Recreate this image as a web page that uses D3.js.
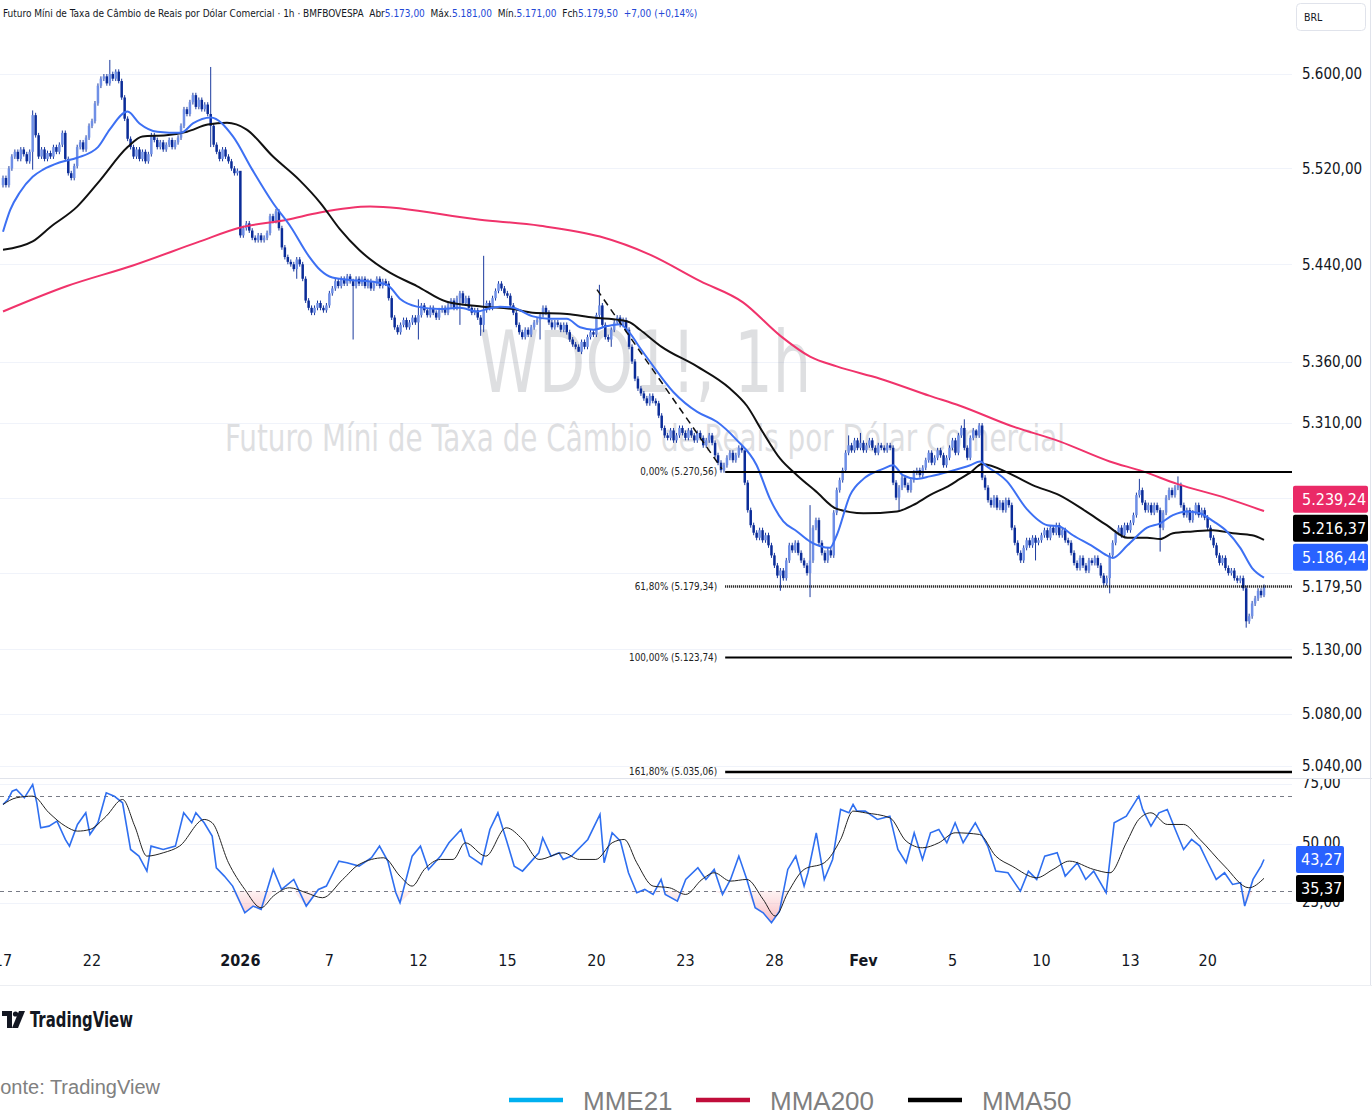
<!DOCTYPE html>
<html>
<head>
<meta charset="utf-8">
<script src="https://cdn.jsdelivr.net/npm/d3@7"></script>
<style>
  body { margin: 0; background: #fff; }
  svg { display: block; font-family: "DejaVu Sans Condensed", "DejaVu Sans", sans-serif; }
</style>
</head>
<body>
<svg id="chart"></svg>
<script>
// hourly closes, one row per trading session (WDO1!, 1h)
const sessionLabels = ["17","","","22","","","","","2026","","","7","","","12","","","15","","","20","","","23","","","28","","","Fev","","","5","","","10","","","13","","","20",""];
const firstOpen = 5506;
const closes = [
  [5512,5506,5520,5530,5534,5528,5536,5532,5526,5534],
  [5565,5548,5530,5536,5528,5533,5530,5538,5534,5540],
  [5550,5528,5516,5512,5522,5538,5542,5536,5546,5556],
  [5560,5575,5590,5596,5598,5592,5600,5596,5602,5594],
  [5580,5562,5545,5538,5530,5536,5528,5534,5526,5532],
  [5548,5544,5538,5542,5536,5540,5544,5538,5542,5546],
  [5556,5570,5566,5576,5582,5572,5578,5570,5574,5566],
  [5556,5540,5534,5528,5536,5530,5526,5520,5516,5518],
  [5464,5470,5474,5468,5462,5460,5464,5460,5462,5466],
  [5480,5476,5484,5470,5454,5446,5442,5440,5436,5444],
  [5440,5428,5410,5404,5400,5404,5408,5404,5402,5406],
  [5416,5420,5426,5422,5428,5424,5430,5426,5422,5428],
  [5424,5428,5422,5426,5420,5424,5428,5422,5426,5424],
  [5412,5396,5388,5384,5390,5394,5388,5392,5396,5392],
  [5398,5406,5402,5398,5404,5400,5396,5402,5404,5400],
  [5406,5410,5404,5412,5416,5408,5412,5404,5400,5402],
  [5396,5390,5402,5408,5404,5412,5418,5424,5420,5416],
  [5414,5406,5400,5390,5384,5380,5386,5382,5388,5392],
  [5394,5398,5404,5400,5392,5388,5392,5390,5386,5390],
  [5384,5378,5374,5372,5368,5376,5372,5380,5384,5382],
  [5398,5406,5390,5380,5378,5386,5392,5396,5390,5394],
  [5386,5372,5360,5346,5338,5334,5330,5326,5332,5328],
  [5326,5316,5306,5300,5298,5304,5296,5300,5306,5302],
  [5298,5304,5300,5296,5302,5298,5292,5296,5300,5294],
  [5284,5278,5272,5276,5282,5286,5280,5284,5290,5288],
  [5262,5240,5228,5222,5218,5224,5216,5220,5212,5204],
  [5196,5188,5192,5186,5200,5212,5208,5214,5206,5200],
  [5196,5190,5200,5226,5232,5214,5206,5200,5208,5204],
  [5238,5256,5264,5272,5286,5292,5288,5296,5290,5294],
  [5288,5292,5296,5290,5286,5292,5290,5288,5292,5290],
  [5262,5250,5258,5266,5260,5256,5264,5270,5272,5268],
  [5274,5280,5286,5278,5282,5288,5284,5276,5282,5290],
  [5296,5286,5300,5306,5290,5282,5298,5304,5300,5308],
  [5266,5258,5248,5244,5250,5242,5246,5240,5248,5244],
  [5226,5214,5206,5200,5210,5216,5212,5218,5214,5216],
  [5220,5224,5218,5226,5222,5228,5220,5224,5216,5214],
  [5206,5198,5194,5202,5196,5192,5200,5198,5202,5196],
  [5188,5182,5186,5204,5214,5222,5226,5220,5228,5224],
  [5230,5236,5252,5256,5246,5240,5244,5238,5244,5240],
  [5226,5238,5250,5256,5252,5258],
  [5260,5244,5236,5240,5232,5238,5244,5236,5240,5234],
  [5226,5218,5212,5204,5198,5202,5194,5190,5192,5186],
  [5184,5186,5178,5152,5156,5166,5170,5176,5172.5,5179.5]
];
// long wicks: [bar, high, low]
const spikes = [
  [10,5569,5519],[20,5552,null],[36,5612,null],[38,5604,null],[70,5606,5538],[80,5508,null],
  [99,null,5428],[118,null,5378],[140,5411,5378],[154,null,5390],[161,null,5381],[162,5447,5384],
  [181,null,5378],[194,null,5368],[201,5423,null],[205,null,5372],[250,5283,null],[262,null,5176],
  [272,5244,5171],[285,5300,null],[289,5302,null],[302,null,5240],[324,5313,null],[328,5305,null],
  [348,null,5200],[373,null,5174],[383,5265,null],[390,null,5207],[396,5267,null],[419,null,5147],
  [425,5181,5171]
];
// moving averages: [bar, value]
const mme21 = [[0,5467],[2.4,5485],[5.7,5500],[10,5513],[13.5,5519],[19,5525],[25,5529],[32,5538],[36,5553],[42,5568],[46,5558],[52,5551],[60,5550],[64,5558],[70,5563],[77.5,5547],[84,5519],[91,5491],[97,5471],[103,5447],[107,5435],[111,5429],[117,5427],[126,5425],[130,5422],[134,5411],[139.5,5405],[147,5403],[154,5404],[160,5401],[163,5403],[167.5,5405],[172,5404],[178.6,5397],[184,5395],[190,5395],[194.5,5388],[199,5386],[203.6,5389],[208,5390.5],[211,5384],[215,5370],[218,5360],[226,5335],[234,5319],[240.6,5311],[247,5297],[254,5276],[258.5,5249],[263,5231],[267.6,5223],[272,5215],[278.7,5210],[281,5220],[285.5,5252],[290,5265],[296.6,5273],[300,5276],[303.3,5268],[308,5265],[312.4,5267],[319,5271],[326,5276],[329.3,5279],[331.6,5275],[338.4,5263],[345,5241],[352,5228],[356,5227],[360.6,5220],[367.4,5211],[372,5204],[374,5202],[379,5212],[385.6,5226],[390,5229.5],[394.3,5236],[399,5239],[403.4,5237.5],[408,5231],[412.5,5223],[417,5210],[421,5194],[425,5186.44]];
const mma50 = [[0,5452],[10,5459],[16,5471],[25,5488],[32.7,5510],[42,5538],[47,5547],[55,5548],[62,5551],[69,5557],[75.5,5558.5],[82,5553],[91,5530],[100,5510],[107,5491],[113.6,5469],[120,5452],[130.4,5433],[139.5,5422],[149.6,5409],[161.8,5405],[171.9,5403],[178.6,5400],[190.1,5399],[198.9,5396],[208,5394],[211.3,5392],[214.7,5386],[222,5372],[233.9,5356],[245,5338],[250.7,5324],[256,5303],[262,5281],[267.6,5268],[274,5255],[281,5241],[290,5237.5],[301.3,5239],[306.7,5244],[312.4,5252],[319.2,5260],[322.5,5265],[326,5270],[330,5277],[339.5,5269],[347,5260],[356,5252],[365,5239],[372,5228],[379,5218],[385.6,5218],[390,5217],[394.3,5221.6],[401,5223],[407.8,5224],[414.5,5221.6],[421,5220],[425,5216.37]];
const mma200 = [[0,5401],[21.6,5422],[43.8,5439],[66.4,5459],[80,5470.5],[95.7,5477],[106.8,5483],[123.7,5488],[160.8,5477],[181,5472],[201.2,5463],[218,5448],[235,5426],[249.4,5408.5],[262,5381],[272,5364],[281,5356],[295.6,5346],[312.4,5332],[322.5,5324],[339.4,5308],[356.3,5295],[373,5279],[384.2,5271],[395.7,5261],[412.5,5249.4],[425,5239.24]];
// RSI and its average: [bar, value]
const rsi = [[0,66.4],[1.7,68.5],[3.1,72.0],[4.5,72.7],[7.2,69.2],[10,74.8],[11.4,67.1],[12.7,56.6],[15.5,57.3],[18.2,59.4],[21,51.7],[22.4,48.9],[25.1,58.0],[27.9,62.9],[29.3,53.8],[32,58.7],[34.8,71.3],[37.5,69.9],[40.3,67.1],[43,47.5],[45.8,44.7],[48.5,38.4],[49.9,48.9],[54,47.5],[58.1,48.9],[60.9,62.9],[63.6,58.7],[65,62.9],[67.8,58.7],[70.5,53.1],[71.9,39.8],[74.6,36.3],[77.4,32.1],[81.5,20.9],[84.3,23.7],[87,22.3],[91.1,39.1],[93.9,30.7],[98,34.9],[102.2,23.7],[106.3,30.7],[109,32.1],[113.2,42.6],[115.9,41.9],[120,40.5],[124.2,44.0],[126.9,48.9],[129.7,42.6],[132.4,29.3],[133.8,25.1],[137.9,44.7],[140.7,48.9],[143.4,39.1],[147.5,44.7],[150.3,50.3],[154.4,55.9],[157.2,44.7],[161.3,41.2],[164.1,55.9],[166.8,62.9],[169.6,51.7],[172.3,40.5],[175.1,38.4],[180.6,46.1],[181.9,52.4],[184.7,44.7],[187.4,46.1],[188.8,43.3],[191.6,44.7],[197.1,51.7],[201.2,62.2],[202.6,41.9],[205.3,54.5],[208.1,51.0],[210.8,37.7],[213.6,29.3],[216.3,30.7],[219.1,28.6],[221.8,34.9],[223.2,28.6],[227.3,25.8],[230.1,34.9],[234.2,39.8],[236.9,34.9],[239.7,39.1],[242.5,28.6],[245.2,34.9],[248,44.7],[250.7,34.9],[253.5,23.0],[256.2,20.9],[259,16.7],[261.7,21.6],[264.5,39.1],[267.2,44.7],[270,32.1],[271.3,37.7],[274.1,54.5],[276.8,34.9],[279.6,43.3],[282.3,64.3],[285.1,62.9],[286.5,66.4],[287.8,63.6],[290.6,63.6],[294.7,60.1],[298.9,61.5],[301.6,47.5],[304.4,41.9],[307.1,54.5],[309.9,43.3],[312.6,54.5],[315.4,55.9],[318.1,50.3],[320.9,58.7],[323.6,50.3],[327.7,58.7],[331.9,48.9],[334.6,38.4],[338.7,37.7],[342.9,30.0],[345.6,38.4],[348.4,34.9],[351.1,44.7],[355.3,46.1],[358,36.3],[362.1,41.9],[364.9,34.9],[367.6,38.4],[371.8,29.3],[374.5,58.7],[378.6,61.5],[382.8,69.9],[384.1,64.3],[386.9,57.3],[389.6,62.9],[392.4,64.3],[395.1,55.9],[397.9,47.5],[400.6,51.7],[403.4,48.9],[406.1,41.9],[408.9,34.9],[411.7,37.7],[414.4,32.8],[417.1,33.5],[418.5,23.7],[421.3,34.9],[424,40.5],[425,43.27]];
const rsiMa = [[0,66.4],[4.5,69.2],[10,69.9],[15.5,62.9],[21,57.3],[25.1,55.2],[29.3,55.9],[34.8,61.5],[40.3,68.5],[44.4,57.3],[48.5,44.7],[54,46.1],[59.5,48.9],[67.8,60.1],[70.5,58.7],[76,41.9],[81.5,30.7],[87,23.0],[91.1,27.9],[96.6,31.4],[102.2,29.3],[107.7,27.2],[114.5,34.9],[120,41.2],[128.3,44.0],[133.8,36.3],[137.9,32.1],[142,39.1],[147.5,43.3],[151.7,43.3],[155.8,50.3],[162.7,44.7],[169.6,56.6],[175.1,51.7],[180.6,43.3],[188.8,46.1],[194.3,43.3],[199.8,43.3],[205.3,50.3],[209.4,51.7],[213.6,41.9],[219.1,32.1],[224.6,31.4],[230.1,28.6],[235.6,34.9],[239.7,37.7],[245.2,34.2],[250.7,34.9],[256.2,26.5],[260.3,19.5],[264.5,29.3],[270,39.1],[276.8,41.9],[282.3,51.7],[286.5,63.6],[290.6,62.9],[298.9,60.8],[304.4,51.0],[309.9,48.2],[315.4,50.3],[320.9,54.5],[329.1,53.8],[334.6,44.7],[340.1,40.5],[348.4,35.6],[353.9,39.1],[359.4,42.6],[367.6,39.1],[373.1,37.7],[378.6,50.3],[382.8,60.1],[386.9,62.9],[392.4,58.0],[397.9,58.0],[403.4,51.7],[411.7,40.5],[419.9,31.4],[425,35.37]];
// fibonacci drawing and dashed trend line
const fibStartBar = 243.4;
const fibPct = ["0,00%", "61,80%", "100,00%", "161,80%"];
const fibValues = [5270.56, 5179.34, 5123.74, 5035.06];
const trendLine = [[200.2, 5419], [242.3, 5273]];
// axes
const priceGrid = [5600, 5520, 5440, 5360, 5310, 5250, 5190, 5130, 5080, 5040];
const priceLabels = [5600, 5520, 5440, 5360, 5310, 5130, 5080, 5040];
const rsiTicks = [75, 50, 25];
const lastBar = { open: 5173, high: 5181, low: 5171, close: 5179.5, change: 7, pct: 0.14 };
const legendNames = ["MME21", "MMA200", "MMA50"];

class TvChart {
  constructor(config) {
    this.config = {
      parent: config.parent,
      width: config.width || 1372,
      height: config.height || 1117,
      plotRight: config.plotRight || 1292,
      paneBottom: config.paneBottom || 778
    };
    this.init();
  }

  init() {
    let self = this;
    self.svg = d3.select(self.config.parent)
      .attr('width', self.config.width)
      .attr('height', self.config.height);

    // build bars, open = previous close
    self.bars = [];
    self.sessionStart = [];
    let prev = firstOpen;
    closes.forEach(day => {
      self.sessionStart.push(self.bars.length);
      day.forEach(c => {
        self.bars.push({ i: self.bars.length, o: prev, c: c, h: null, l: null });
        prev = c;
      });
    });
    spikes.forEach(s => {
      if (s[1] !== null) self.bars[s[0]].h = s[1];
      if (s[2] !== null) self.bars[s[0]].l = s[2];
    });

    self.xscale = d3.scaleLinear().domain([0, self.bars.length - 1]).range([3, 1264]);
    self.yscale = d3.scaleLog().domain([5600, 5035.06]).range([74, 772]);
    self.rscale = d3.scaleLinear().domain([25, 75]).range([903, 784]);

    const br = d3.formatLocale({ decimal: ",", thousands: ".", grouping: [3], currency: ["", ""] });
    self.fmt = br.format(",.2f");

    const defs = self.svg.append('defs');
    defs.append('clipPath').attr('id', 'clip-main').append('rect')
      .attr('x', 0).attr('y', 0).attr('width', self.config.plotRight).attr('height', self.config.paneBottom);
    defs.append('clipPath').attr('id', 'clip-rsi').append('rect')
      .attr('x', 0).attr('y', self.config.paneBottom + 1).attr('width', self.config.plotRight).attr('height', 164);
    defs.append('clipPath').attr('id', 'clip-rsi-axis').append('rect')
      .attr('x', self.config.plotRight).attr('y', self.config.paneBottom + 1).attr('width', 80).attr('height', 164);
    const grad = defs.append('linearGradient').attr('id', 'os-grad')
      .attr('gradientUnits', 'userSpaceOnUse').attr('x1', 0).attr('x2', 0)
      .attr('y1', self.rscale(30)).attr('y2', self.rscale(15));
    grad.append('stop').attr('offset', 0).attr('stop-color', '#f7a1a8').attr('stop-opacity', 0.15);
    grad.append('stop').attr('offset', 1).attr('stop-color', '#f26b76').attr('stop-opacity', 0.55);
  }

  render() {
    let self = this;
    const x = self.xscale, y = self.yscale, r = self.rscale;
    const right = self.config.plotRight;

    // grid
    self.svg.append('g').selectAll('line').data(priceGrid).join('line')
      .attr('x1', 0).attr('x2', right)
      .attr('y1', d => Math.round(y(d)) + 0.5).attr('y2', d => Math.round(y(d)) + 0.5)
      .attr('stroke', '#f0f3fa');

    // watermark
    const wm = self.svg.append('g').attr('fill', '#787b86').attr('opacity', 0.24);
    wm.append('text').attr('x', 645).attr('y', 392).attr('text-anchor', 'middle')
      .attr('font-size', 86).attr('textLength', 332).attr('lengthAdjust', 'spacingAndGlyphs')
      .text('WDO1!, 1h');
    wm.append('text').attr('x', 645).attr('y', 451).attr('text-anchor', 'middle')
      .attr('font-size', 38).attr('textLength', 840).attr('lengthAdjust', 'spacingAndGlyphs')
      .text('Futuro Míni de Taxa de Câmbio de Reais por Dólar Comercial');

    const main = self.svg.append('g').attr('clip-path', 'url(#clip-main)');

    // candles
    const candle = main.append('g').selectAll('g').data(self.bars).join('g');
    candle.append('line')
      .attr('x1', d => x(d.i)).attr('x2', d => x(d.i))
      .attr('y1', d => y(d.h !== null ? d.h : Math.max(d.o, d.c) + 2))
      .attr('y2', d => y(d.l !== null ? d.l : Math.min(d.o, d.c) - 2))
      .attr('stroke', '#1b3a9e').attr('stroke-width', 1);
    candle.append('rect')
      .attr('x', d => x(d.i) - 1.25).attr('width', 2.5)
      .attr('y', d => y(Math.max(d.o, d.c)))
      .attr('height', d => Math.max(1, y(Math.min(d.o, d.c)) - y(Math.max(d.o, d.c))))
      .attr('fill', d => d.c >= d.o ? '#6f8fe6' : '#0b2c98');

    // moving averages
    const line = d3.line().x(d => x(d[0])).y(d => y(d[1])).curve(d3.curveMonotoneX);
    main.append('path').datum(mma200).attr('d', line).attr('fill', 'none').attr('stroke', '#f0336b').attr('stroke-width', 2);
    main.append('path').datum(mma50).attr('d', line).attr('fill', 'none').attr('stroke', '#111').attr('stroke-width', 2);
    main.append('path').datum(mme21).attr('d', line).attr('fill', 'none').attr('stroke', '#3d70f3').attr('stroke-width', 2);

    // trend line
    main.append('path').datum(trendLine).attr('d', d3.line().x(d => x(d[0])).y(d => y(d[1])))
      .attr('stroke', '#111').attr('stroke-width', 1.5).attr('stroke-dasharray', '7,5');

    // fibonacci levels
    const fibStyle = [{ w: 2, dash: null }, { w: 2.5, dash: '1,1' }, { w: 2, dash: null }, { w: 2.5, dash: null }];
    const fib = self.svg.append('g');
    fibValues.forEach((v, k) => {
      fib.append('line').attr('x1', x(fibStartBar)).attr('x2', right)
        .attr('y1', y(v)).attr('y2', y(v))
        .attr('stroke', '#000').attr('stroke-width', fibStyle[k].w)
        .attr('stroke-dasharray', fibStyle[k].dash);
      fib.append('text').attr('x', x(fibStartBar) - 8).attr('y', y(v)).attr('dy', '0.35em')
        .attr('text-anchor', 'end').attr('font-size', 9.8).attr('fill', '#222')
        .text(`${fibPct[k]} (${self.fmt(v)})`);
    });

    // pane separator and bottom line
    self.svg.append('line').attr('x1', 0).attr('x2', self.config.width)
      .attr('y1', self.config.paneBottom + 0.5).attr('y2', self.config.paneBottom + 0.5).attr('stroke', '#e0e3eb');
    self.svg.append('line').attr('x1', 0).attr('x2', self.config.width)
      .attr('y1', 985.5).attr('y2', 985.5).attr('stroke', '#eceef2');
    self.svg.append('line').attr('x1', 1370.5).attr('x2', 1370.5)
      .attr('y1', 0).attr('y2', 985).attr('stroke', '#e0e3eb');

    // RSI pane
    const rp = self.svg.append('g').attr('clip-path', 'url(#clip-rsi)');
    rp.selectAll('.rgrid').data(rsiTicks).join('line')
      .attr('x1', 0).attr('x2', right)
      .attr('y1', d => Math.round(r(d)) + 0.5).attr('y2', d => Math.round(r(d)) + 0.5)
      .attr('stroke', '#f0f3fa');
    rp.selectAll('.band').data([70, 30]).join('line')
      .attr('x1', 0).attr('x2', right)
      .attr('y1', d => Math.round(r(d)) + 0.5).attr('y2', d => Math.round(r(d)) + 0.5)
      .attr('stroke', '#787b86').attr('stroke-dasharray', '4,4');
    const os = d3.area().x(d => x(d[0])).y0(r(30)).y1(d => r(Math.min(30, d[1])));
    rp.append('path').datum(rsi).attr('d', os).attr('fill', 'url(#os-grad)');
    const rline = d3.line().x(d => x(d[0])).y(d => r(d[1]));
    rp.append('path').datum(rsi).attr('d', rline).attr('fill', 'none').attr('stroke', '#2f6ff0').attr('stroke-width', 1.6);
    rp.append('path').datum(rsiMa).attr('d', rline.curve(d3.curveMonotoneX)).attr('fill', 'none').attr('stroke', '#222').attr('stroke-width', 1);

    // right price scale
    const ax = self.svg.append('g').attr('font-size', 15).attr('fill', '#131722');
    ax.selectAll('text').data(priceLabels).join('text')
      .attr('x', 1302).attr('y', d => y(d)).attr('dy', '0.35em')
      .text(d => self.fmt(d));
    ax.append('text').attr('x', 1302).attr('y', y(lastBar.close)).attr('dy', '0.35em')
      .text(self.fmt(lastBar.close));

    // MA badges stacked above the last price label
    const badges = [
      { v: mme21[mme21.length - 1][1], fill: '#2962ff' },
      { v: mma50[mma50.length - 1][1], fill: '#000' },
      { v: mma200[mma200.length - 1][1], fill: '#ea2a67' }
    ];
    let cy = y(lastBar.close);
    badges.forEach(b => {
      cy = Math.min(cy - 29, y(b.v));
      self.svg.append('rect').attr('x', 1293).attr('y', cy - 13.5).attr('width', 75).attr('height', 27)
        .attr('rx', 2).attr('fill', b.fill);
      self.svg.append('text').attr('x', 1302).attr('y', cy).attr('dy', '0.36em')
        .attr('font-size', 16).attr('fill', '#fff').text(self.fmt(b.v));
    });

    // RSI scale
    const rax = self.svg.append('g').attr('clip-path', 'url(#clip-rsi-axis)')
      .attr('font-size', 15).attr('fill', '#131722');
    rax.selectAll('text').data(rsiTicks).join('text')
      .attr('x', 1302).attr('y', d => r(d) - 1).attr('dy', '0.35em')
      .text(d => self.fmt(d));
    const rb1 = rsi[rsi.length - 1][1], rb2 = rsiMa[rsiMa.length - 1][1];
    const y1 = r(rb1), y2 = Math.max(r(rb2), y1 + 29);
    [[rb1, y1, '#2962ff'], [rb2, y2, '#000']].forEach(b => {
      self.svg.append('rect').attr('x', 1296).attr('y', b[1] - 13.5).attr('width', 48).attr('height', 27)
        .attr('rx', 2).attr('fill', b[2]);
      self.svg.append('text').attr('x', 1301).attr('y', b[1]).attr('dy', '0.36em')
        .attr('font-size', 16).attr('fill', '#fff').text(self.fmt(b[0]));
    });

    // time axis
    const tg = self.svg.append('g').attr('font-size', 16).attr('fill', '#131722').attr('text-anchor', 'middle');
    sessionLabels.forEach((lab, k) => {
      if (!lab) return;
      tg.append('text').attr('x', x(self.sessionStart[k])).attr('y', 966)
        .attr('font-weight', (lab === '2026' || lab === 'Fev') ? 'bold' : null)
        .text(lab);
    });

    // header
    const hd = self.svg.append('text').attr('font-size', 11).attr('fill', '#131722');
    const blue = '#2348d6';
    hd.append('tspan').text('Futuro Míni de Taxa de Câmbio de Reais por Dólar Comercial · 1h · BMFBOVESPA\u00a0\u00a0Abr');
    hd.append('tspan').attr('fill', blue).text(self.fmt(lastBar.open));
    hd.append('tspan').text('\u00a0\u00a0Máx.');
    hd.append('tspan').attr('fill', blue).text(self.fmt(lastBar.high));
    hd.append('tspan').text('\u00a0\u00a0Mín.');
    hd.append('tspan').attr('fill', blue).text(self.fmt(lastBar.low));
    hd.append('tspan').text('\u00a0\u00a0Fch');
    hd.append('tspan').attr('fill', blue).text(self.fmt(lastBar.close));
    hd.append('tspan').attr('fill', blue)
      .text(`\u00a0\u00a0+${self.fmt(lastBar.change)} (+${self.fmt(lastBar.pct)}%)`);
    const hw = hd.node().getComputedTextLength();
    hd.attr('transform', `translate(3,17) scale(${695 / hw},1)`);

    // currency box
    self.svg.append('rect').attr('x', 1296.5).attr('y', 3.5).attr('width', 69).attr('height', 27)
      .attr('rx', 4).attr('fill', '#fff').attr('stroke', '#e0e3eb');
    self.svg.append('text').attr('x', 1304).attr('y', 21).attr('font-size', 10.5).attr('fill', '#131722').text('BRL');

    // TradingView logo
    const logo = self.svg.append('g').attr('fill', '#131722');
    logo.append('path').attr('d', 'M2,1011 H12 V1028 H7 V1016 H2 Z');
    logo.append('circle').attr('cx', 15.5).attr('cy', 1014).attr('r', 2.6);
    logo.append('path').attr('d', 'M19,1011 H25 L18,1028 H12 Z');
    logo.append('text').attr('x', 30).attr('y', 1027).attr('font-size', 21).attr('font-weight', 'bold')
      .attr('textLength', 103).attr('lengthAdjust', 'spacingAndGlyphs').text('TradingView');

    // source and legend
    self.svg.append('text').attr('x', -12).attr('y', 1094)
      .style('font-family', '"Liberation Sans", Arial, sans-serif')
      .attr('font-size', 20).attr('fill', '#808080').text('Fonte: TradingView');
    const legColors = ['#00b0f0', '#c00d3a', '#000'];
    const legX = [509, 696, 908];
    const lg = self.svg.append('g').style('font-family', '"Liberation Sans", Arial, sans-serif');
    legendNames.forEach((n, k) => {
      lg.append('line').attr('x1', legX[k]).attr('x2', legX[k] + 54).attr('y1', 1100).attr('y2', 1100)
        .attr('stroke', legColors[k]).attr('stroke-width', 4.5);
      lg.append('text').attr('x', legX[k] + 74).attr('y', 1110).attr('font-size', 26)
        .attr('fill', '#7f7f7f').text(n);
    });
  }
}

const chart = new TvChart({ parent: '#chart' });
chart.render();
</script>
</body>
</html>
